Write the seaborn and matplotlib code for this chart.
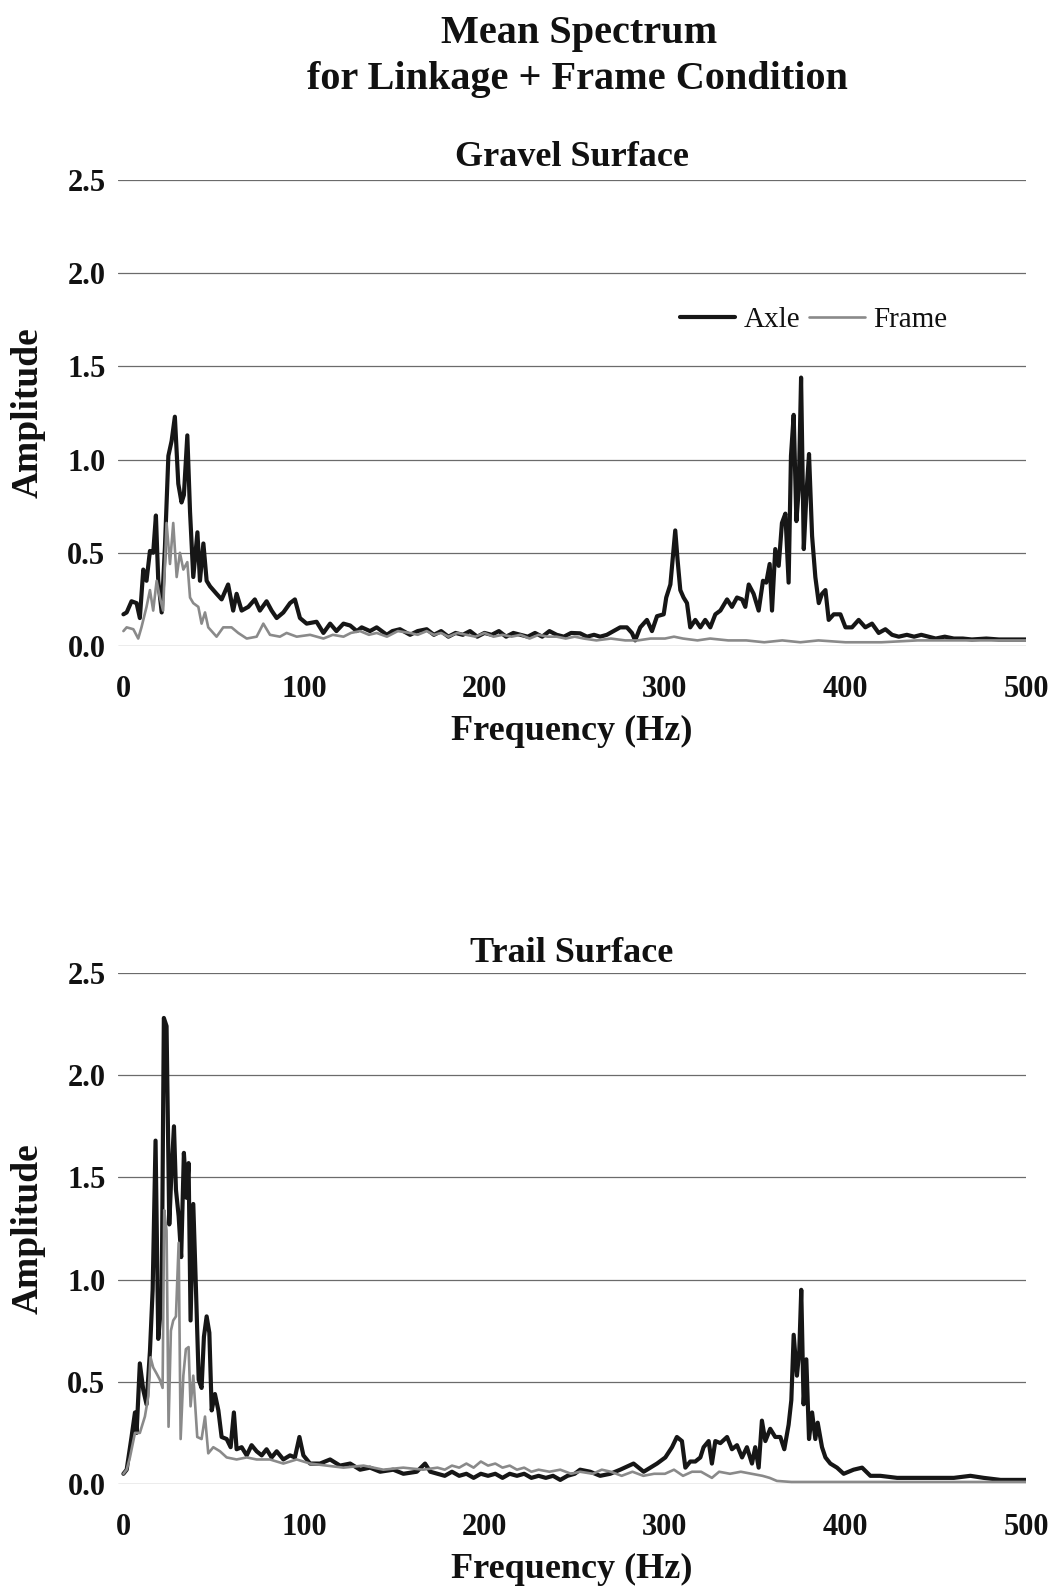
import matplotlib
matplotlib.use("Agg")
import matplotlib.pyplot as plt
import seaborn as sns

# --- Gravel surface, axle (Hz, amplitude) ---
gravel_axle_hz = [0, 1.8, 4.5, 7.3, 9.1, 11, 12.8, 14.7, 16.5, 18, 19.3, 21.2, 23, 24.9, 26.7, 28.5,
                  30.4, 32.2, 33.5, 35.4, 36.9, 38.7, 41, 42.4, 44.3, 46.1, 48, 51.6, 54.4, 58, 60.8,
                  62.7, 65.5, 69.2, 72.8, 75.6, 79.3, 82.1, 84.9, 88.6, 92.3, 95, 97.8, 101.5, 107,
                  110.8, 114.5, 118, 121.9, 125.6, 129.3, 132, 136.6, 140.3, 145.9, 149, 153.2, 158.8,
                  163, 168, 172, 176, 180, 184, 188, 192, 196, 200, 204, 208, 212, 216, 220, 224, 228,
                  232, 236, 240, 244, 248, 253, 256.8, 260.7, 264.1, 267.8, 271.5, 275.2, 278.9, 281.7,
                  283.5, 286.3, 290, 292.8, 295.6, 299.3, 300.7, 303, 305.7, 307, 308.5, 310.3, 312.2,
                  314, 316.8, 319.6, 322.3, 325.1, 327.9, 330.7, 334.4, 337.1, 339.9, 342.7, 344.5,
                  346.4, 349.1, 351.9, 354.3, 356.1, 358, 359.3, 361.1, 363, 364.8, 366.7, 368.5, 369.8,
                  371.3, 372.8, 374.1, 375.4, 376.9, 378.4, 379.8, 381.5, 383.3, 385.2, 387, 388.9,
                  390.7, 393.5, 397.2, 400, 403.6, 407.3, 411, 414.7, 418.4, 422.1, 425.8, 429.5, 434,
                  438, 442, 446, 450, 455, 460, 465, 470, 478, 485, 492, 500]
gravel_axle_amp = [0.17, 0.18, 0.24, 0.23, 0.15, 0.41, 0.35, 0.51, 0.50, 0.70, 0.35, 0.18, 0.53, 1.02,
                   1.10, 1.23, 0.87, 0.77, 0.81, 1.13, 0.72, 0.37, 0.61, 0.35, 0.55, 0.35, 0.32, 0.28,
                   0.25, 0.33, 0.19, 0.28, 0.19, 0.21, 0.25, 0.19, 0.24, 0.19, 0.15, 0.18, 0.23, 0.25,
                   0.15, 0.12, 0.13, 0.07, 0.12, 0.08, 0.12, 0.11, 0.08, 0.10, 0.08, 0.10, 0.06, 0.08,
                   0.09, 0.06, 0.08, 0.09, 0.06, 0.08, 0.05, 0.07, 0.06, 0.08, 0.05, 0.07, 0.06, 0.08,
                   0.05, 0.07, 0.06, 0.05, 0.07, 0.05, 0.08, 0.06, 0.05, 0.07, 0.068, 0.05, 0.06, 0.05,
                   0.06, 0.08, 0.10, 0.10, 0.07, 0.03, 0.10, 0.14, 0.08, 0.16, 0.17, 0.26, 0.33, 0.62,
                   0.46, 0.30, 0.26, 0.23, 0.10, 0.14, 0.10, 0.14, 0.10, 0.17, 0.19, 0.25, 0.21, 0.26,
                   0.25, 0.21, 0.33, 0.28, 0.19, 0.35, 0.34, 0.44, 0.19, 0.52, 0.43, 0.66, 0.71, 0.34,
                   1.02, 1.24, 0.67, 0.84, 1.44, 0.52, 0.82, 1.03, 0.59, 0.37, 0.23, 0.28, 0.30, 0.14,
                   0.17, 0.17, 0.10, 0.10, 0.14, 0.10, 0.12, 0.07, 0.09, 0.06, 0.05, 0.06, 0.05, 0.06,
                   0.05, 0.04, 0.05, 0.04, 0.04, 0.035, 0.04, 0.035, 0.035, 0.035]

# --- Gravel surface, frame ---
gravel_frame_hz = [0, 1.8, 5.5, 8.2, 10, 12.8, 14.7, 16.5, 18.4, 20.2, 22, 23.9, 25.8, 27.6, 29.5,
                   31.3, 33.2, 35.4, 36.9, 38.7, 41.5, 43.3, 45.2, 47, 51.6, 55.3, 59.9, 63.6, 68.3,
                   73.8, 77.5, 81.2, 86.7, 90.4, 96, 103.4, 110.8, 116, 121.9, 126, 131.1, 136, 140.3,
                   146, 152, 158.8, 163, 168, 172, 176, 180, 185, 190, 195, 200, 205, 210, 215, 220, 225,
                   230, 235, 240, 245, 250, 255, 262, 270, 278, 285, 292, 300, 305, 310, 318, 325, 335,
                   345, 355, 365, 375, 385, 400, 420, 440, 460, 480, 500]
gravel_frame_amp = [0.08, 0.10, 0.09, 0.04, 0.10, 0.21, 0.30, 0.19, 0.35, 0.26, 0.19, 0.66, 0.44, 0.66,
                    0.37, 0.50, 0.41, 0.45, 0.26, 0.23, 0.21, 0.12, 0.18, 0.10, 0.05, 0.10, 0.10, 0.07,
                    0.04, 0.05, 0.12, 0.06, 0.05, 0.07, 0.05, 0.06, 0.04, 0.06, 0.05, 0.07, 0.08, 0.06,
                    0.07, 0.05, 0.08, 0.07, 0.06, 0.08, 0.06, 0.07, 0.05, 0.07, 0.06, 0.05, 0.07, 0.05,
                    0.06, 0.05, 0.06, 0.04, 0.06, 0.05, 0.05, 0.04, 0.05, 0.04, 0.03, 0.04, 0.03, 0.03,
                    0.04, 0.04, 0.05, 0.04, 0.03, 0.04, 0.03, 0.03, 0.02, 0.03, 0.02, 0.03, 0.02, 0.02,
                    0.03, 0.03, 0.03, 0.03]

# --- Trail surface, axle ---
trail_axle_hz = [0, 1.8, 4.5, 6.4, 7.3, 9.1, 11, 12.8, 14.7, 16.2, 17.8, 19.3, 21.2, 22.4, 23.9, 25.4,
                 26.5, 28, 29.1, 30.6, 32, 33.5, 35, 36.1, 37.2, 38.7, 40.2, 41.7, 43.3, 44.6, 46.1,
                 47.6, 48.9, 50.7, 52.6, 54.4, 57.2, 59.4, 61.2, 62.7, 65.5, 68.3, 71, 73.8, 76.6, 79.3,
                 82.1, 84.9, 88.6, 92.3, 95, 97.5, 99.7, 103.4, 108.9, 114.5, 120, 125.6, 131.1, 136.6,
                 142.2, 149.5, 155.1, 162.5, 167.1, 170, 174, 178, 182, 186, 190, 194, 198, 202, 206,
                 210, 214, 218, 222, 226, 230, 234, 238, 242, 246, 250, 253, 258.6, 264.1, 269.7,
                 275.2, 282.6, 288.2, 295.6, 300.2, 303.9, 306.6, 309.4, 311.3, 314, 316.8, 319.6,
                 321.4, 324.2, 326, 327.9, 330.7, 334.4, 337.1, 339.9, 342.7, 345.4, 348.2, 350, 351.9,
                 353.7, 355.6, 358.3, 361.1, 363.9, 366.1, 368.5, 370, 371.3, 373.1, 374.4, 375.5,
                 376.8, 378.3, 379.8, 381.5, 383.3, 384.6, 387, 388.9, 391.6, 395.3, 399, 404.5, 409.2,
                 413.8, 419.3, 428.6, 437.8, 448.9, 460, 469.2, 476.6, 485.9, 495.1, 500]
trail_axle_amp = [0.05, 0.07, 0.23, 0.35, 0.25, 0.59, 0.46, 0.39, 0.65, 0.95, 1.68, 0.71, 0.91, 2.28,
                  2.24, 1.27, 1.50, 1.75, 1.44, 1.31, 1.11, 1.62, 1.40, 1.57, 0.80, 1.37, 0.95, 0.51,
                  0.47, 0.72, 0.82, 0.74, 0.36, 0.44, 0.36, 0.23, 0.22, 0.18, 0.35, 0.17, 0.18, 0.14,
                  0.19, 0.16, 0.14, 0.17, 0.13, 0.16, 0.12, 0.14, 0.13, 0.23, 0.14, 0.10, 0.10, 0.12,
                  0.09, 0.10, 0.07, 0.08, 0.06, 0.07, 0.05, 0.06, 0.10, 0.06, 0.05, 0.04, 0.06, 0.04,
                  0.05, 0.03, 0.05, 0.04, 0.05, 0.03, 0.05, 0.04, 0.05, 0.03, 0.04, 0.03, 0.04, 0.02,
                  0.04, 0.05, 0.07, 0.06, 0.04, 0.05, 0.07, 0.10, 0.06, 0.10, 0.13, 0.18, 0.23, 0.21,
                  0.08, 0.11, 0.11, 0.13, 0.18, 0.21, 0.10, 0.21, 0.20, 0.23, 0.17, 0.19, 0.13, 0.18,
                  0.10, 0.18, 0.08, 0.31, 0.21, 0.27, 0.23, 0.23, 0.17, 0.29, 0.41, 0.73, 0.53, 0.65,
                  0.95, 0.39, 0.61, 0.22, 0.35, 0.22, 0.30, 0.18, 0.13, 0.10, 0.08, 0.05, 0.07, 0.08,
                  0.04, 0.04, 0.03, 0.03, 0.03, 0.03, 0.04, 0.03, 0.02, 0.02, 0.02]

# --- Trail surface, frame ---
trail_frame_hz = [0, 1.8, 3.6, 6.4, 9.1, 11.9, 13.8, 15, 16.5, 18.4, 20.2, 21.7, 22.6, 23.9, 25, 26.3,
                  27.6, 29.1, 30.6, 31.7, 33.2, 34.6, 36.1, 37.2, 38.7, 40.9, 43.3, 45.2, 47, 49.8,
                  53.5, 57.2, 62.7, 68.3, 73.8, 81.2, 88.6, 96, 103.4, 112.6, 121.9, 133, 144, 155, 166,
                  174, 178, 182, 186, 190, 194, 198, 202, 206, 210, 214, 218, 222, 226, 230, 236, 242,
                  248, 253, 260, 265, 270, 276, 282, 288, 294, 300, 305, 310, 315, 320, 326, 330, 336,
                  342, 348, 354, 358, 362, 370, 380, 400, 420, 440, 460, 480, 500]
trail_frame_amp = [0.05, 0.07, 0.13, 0.25, 0.25, 0.33, 0.43, 0.62, 0.57, 0.54, 0.51, 0.47, 1.34, 1.24,
                   0.28, 0.75, 0.80, 0.82, 1.18, 0.22, 0.53, 0.66, 0.67, 0.38, 0.53, 0.23, 0.22, 0.33,
                   0.15, 0.18, 0.16, 0.13, 0.12, 0.13, 0.12, 0.12, 0.10, 0.12, 0.10, 0.09, 0.08, 0.09,
                   0.07, 0.08, 0.07, 0.08, 0.07, 0.09, 0.08, 0.10, 0.08, 0.11, 0.09, 0.10, 0.08, 0.09,
                   0.07, 0.08, 0.06, 0.07, 0.06, 0.07, 0.05, 0.06, 0.05, 0.07, 0.06, 0.04, 0.06, 0.04,
                   0.05, 0.05, 0.07, 0.04, 0.06, 0.06, 0.03, 0.06, 0.05, 0.06, 0.05, 0.04, 0.03, 0.015,
                   0.01, 0.01, 0.01, 0.01, 0.01, 0.01, 0.01, 0.01]

x_ticks = [0, 100, 200, 300, 400, 500]
y_ticks = [0.0, 0.5, 1.0, 1.5, 2.0, 2.5]

AXLE_COLOR = "#161616"
FRAME_COLOR = "#8a8a8a"

sns.set_theme(style="white")
plt.rcParams["font.family"] = ["Liberation Serif", "DejaVu Serif"]
plt.rcParams["font.weight"] = "bold"
for key in ["text.color", "axes.labelcolor", "xtick.color", "ytick.color"]:
    plt.rcParams[key] = "#111111"

fig = plt.figure(figsize=(10.54, 15.87), dpi=100)
W, H = 1054, 1587


def add_panel(left, top, right, bottom):
    """Axes from pixel box (top-left origin)."""
    return fig.add_axes([left / W, 1 - bottom / H, (right - left) / W, (bottom - top) / H])


def style_panel(ax, title, title_off, xlabel_off):
    ax.set_xlim(-3, 500)
    ax.set_ylim(0, 2.5)
    ax.set_xticks(x_ticks)
    ax.set_yticks(y_ticks)
    ax.set_yticklabels([f"{v:.1f}" for v in y_ticks])
    ax.tick_params(axis="both", length=0, labelsize=22)
    ax.tick_params(axis="y", pad=9)
    ax.tick_params(axis="x", pad=21)
    for s in ax.spines.values():
        s.set_visible(False)
    ax.grid(axis="y", color="#6b6b6b", lw=0.9)
    ax.grid(axis="x", visible=False)
    ax.text(0.5, 1 + title_off, title, transform=ax.transAxes, ha="center", va="center",
            fontsize=26, fontweight="bold")
    ax.set_xlabel("Frequency (Hz)", fontsize=26, fontweight="bold", va="center")
    ax.xaxis.set_label_coords(0.5, -xlabel_off)
    ax.set_ylabel("Amplitude", fontsize=27, fontweight="bold", va="center")
    ax.yaxis.set_label_coords(-0.099, 0.5)


ax1 = add_panel(118, 180, 1026, 646)
ax2 = add_panel(118, 973, 1026, 1484)

for ax, ax_hz, ax_amp, fr_hz, fr_amp in [
    (ax1, gravel_axle_hz, gravel_axle_amp, gravel_frame_hz, gravel_frame_amp),
    (ax2, trail_axle_hz, trail_axle_amp, trail_frame_hz, trail_frame_amp),
]:
    sns.lineplot(x=ax_hz, y=ax_amp, ax=ax, color=AXLE_COLOR, lw=3.0, label="Axle",
                 estimator=None, sort=False)
    sns.lineplot(x=fr_hz, y=fr_amp, ax=ax, color=FRAME_COLOR, lw=1.9, label="Frame",
                 estimator=None, sort=False)

style_panel(ax1, "Gravel Surface", 22 / 466, 85 / 466)
style_panel(ax2, "Trail Surface", 20 / 511, 85 / 511)

# legend only in the top panel
ax1.legend(loc="center", bbox_to_anchor=(0.766, 0.70), ncol=2, frameon=False,
           handlelength=1.9, handletextpad=0.3, columnspacing=0.3,
           prop={"family": "Liberation Serif", "weight": "normal", "size": 21})
ax2.get_legend().remove()

fig.text(0.549, 1 - 34 / H, "Mean Spectrum", ha="center", va="center", fontsize=29, fontweight="bold")
fig.text(0.548, 1 - 80 / H, "for Linkage + Frame Condition", ha="center", va="center",
         fontsize=29, fontweight="bold")

fig.savefig("out.png", dpi=100)
